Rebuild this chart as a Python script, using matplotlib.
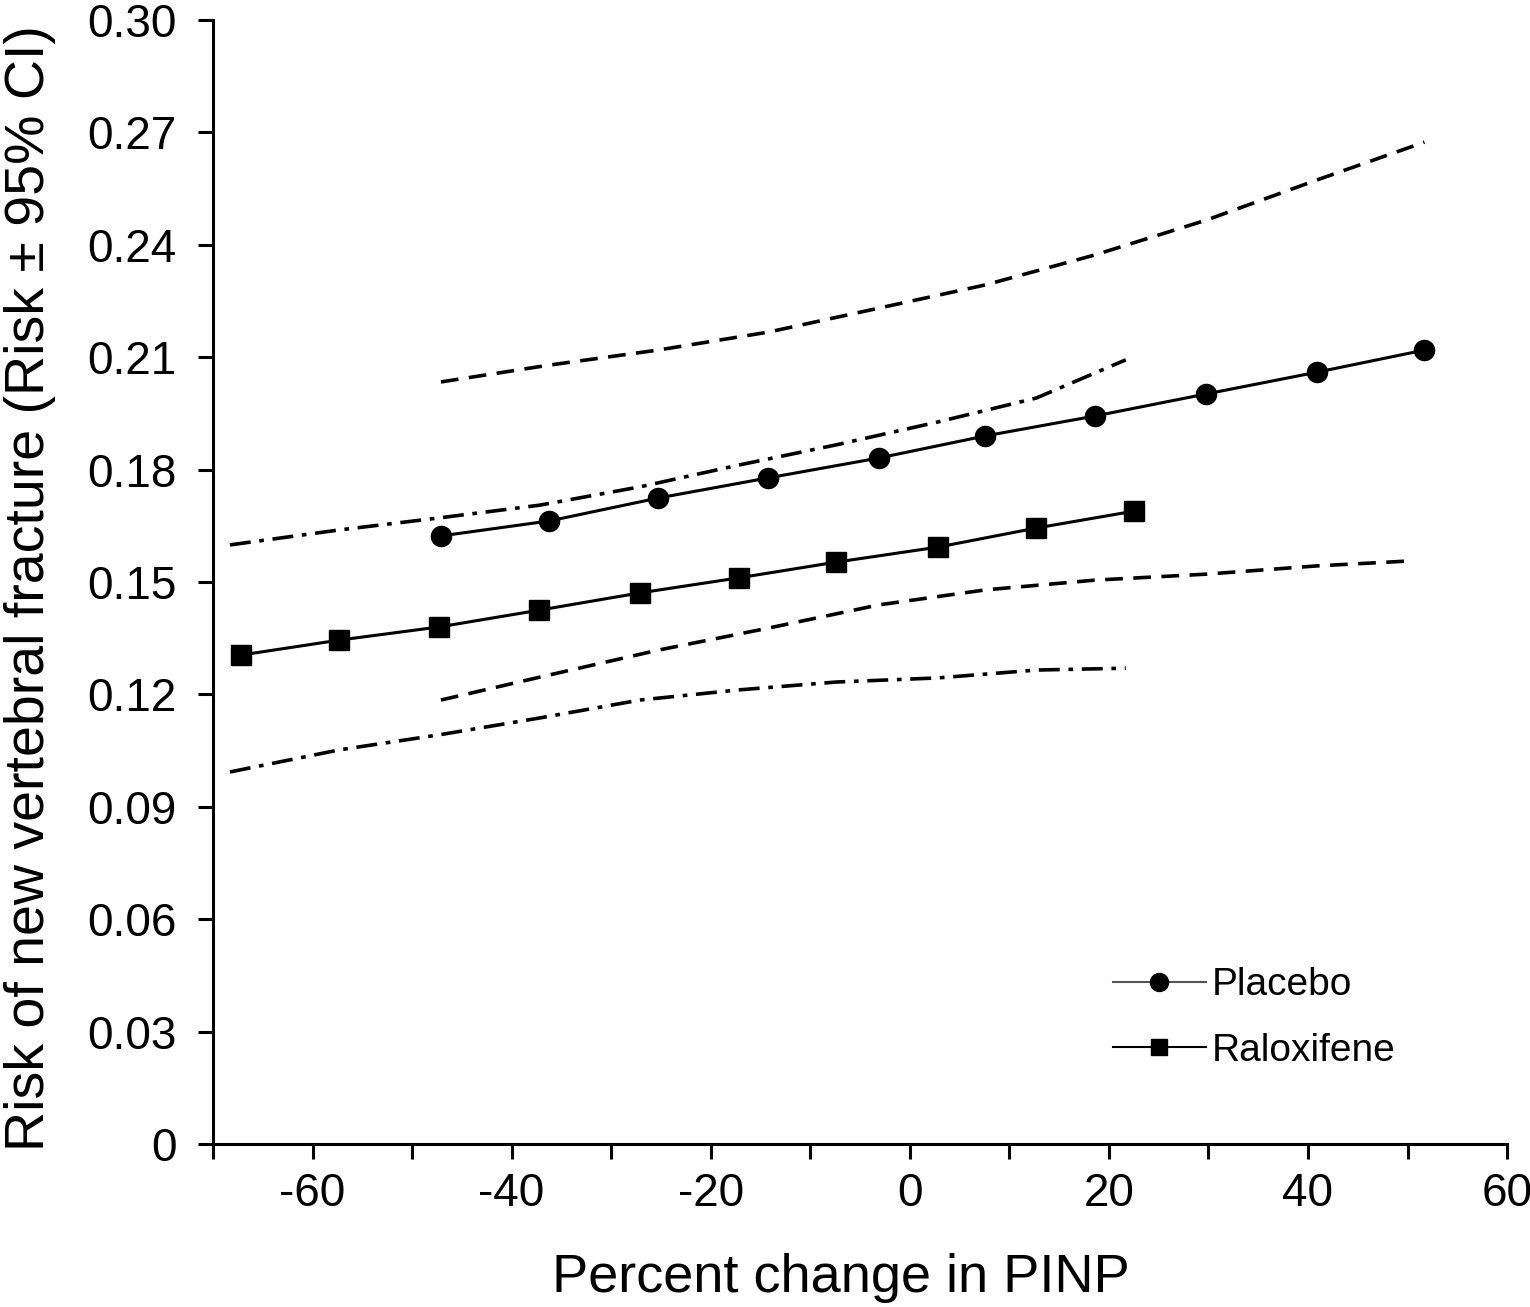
import matplotlib
matplotlib.use("Agg")
import matplotlib.pyplot as plt
from matplotlib.lines import Line2D

plt.rcParams['font.family'] = ['Liberation Sans', 'DejaVu Sans']

# Placebo
plc_x = [-47.1, -36.2, -25.3, -14.2, -3.1, 7.6, 18.6, 29.8, 40.9, 51.7]
plc_y = [0.1623, 0.1663, 0.1724, 0.1778, 0.1831, 0.1890, 0.1943, 0.2002, 0.2060, 0.2119]
plc_up = [0.2034, 0.2079, 0.2119, 0.2167, 0.2231, 0.2293, 0.2373, 0.2466, 0.2573, 0.2674]
plc_lo_x = [-47.1, -36.2, -25.3, -14.2, -3.1, 7.6, 18.6, 29.8, 40.9, 50.1]
plc_lo = [0.1185, 0.1252, 0.1318, 0.1377, 0.1439, 0.1479, 0.1505, 0.1521, 0.1543, 0.1556]

# Raloxifene
ral_x = [-67.2, -57.3, -47.3, -37.2, -27.1, -17.2, -7.4, 2.8, 12.7, 22.5]
ral_y = [0.1305, 0.1345, 0.1380, 0.1425, 0.1471, 0.1511, 0.1553, 0.1593, 0.1644, 0.1689]
ral_ci_x = [-68.3, -57.3, -47.3, -37.2, -27.1, -17.2, -7.4, 2.8, 12.7, 21.7]
ral_up = [0.1599, 0.1639, 0.1671, 0.1705, 0.1754, 0.1812, 0.1866, 0.1927, 0.1991, 0.2093]
ral_lo = [0.0993, 0.1052, 0.1092, 0.1137, 0.1185, 0.1212, 0.1233, 0.1244, 0.1265, 0.1270]

x_ticks = list(range(-70, 61, 10))
x_labels = ['' if t % 20 else str(t) for t in x_ticks]
y_ticks = [0, 0.03, 0.06, 0.09, 0.12, 0.15, 0.18, 0.21, 0.24, 0.27, 0.30]
y_labels = ['0', '0.03', '0.06', '0.09', '0.12', '0.15', '0.18', '0.21', '0.24', '0.27', '0.30']

fig = plt.figure(figsize=(15.3, 13.07), dpi=100)
ax = fig.add_axes([0.1392, 0.1247, 0.8458, 0.86])

lw = 2.2
ci_lw = 2.6
ax.plot(plc_x, plc_up, color='black', lw=ci_lw, dashes=(4.9, 2.9))
ax.plot(plc_lo_x, plc_lo, color='black', lw=ci_lw, dashes=(4.9, 2.9))
ax.plot(ral_ci_x, ral_up, color='black', lw=ci_lw, dashes=(5.8, 2.4, 1.3, 2.4))
ax.plot(ral_ci_x, ral_lo, color='black', lw=ci_lw, dashes=(5.8, 2.4, 1.3, 2.4))
ax.plot(plc_x, plc_y, color='black', lw=lw, marker='o', markersize=14.5)
ax.plot(ral_x, ral_y, color='black', lw=lw, marker='s', markersize=14)

ax.set_xlim(-70, 60)
ax.set_ylim(0, 0.30)
ax.set_xticks(x_ticks)
ax.set_xticklabels(x_labels)
ax.set_yticks(y_ticks)
ax.set_yticklabels(y_labels)

for s in ['top', 'right']:
    ax.spines[s].set_visible(False)
for s in ['left', 'bottom']:
    ax.spines[s].set_linewidth(2.2)
ax.tick_params(axis='both', direction='out', length=11, width=2.2, labelsize=33)
ax.tick_params(axis='y', pad=15)
ax.tick_params(axis='x', pad=9)

ax.set_xlabel('Percent change in PINP', fontsize=39)
ax.xaxis.set_label_coords(0.4853, -0.097)
ax.set_ylabel('Risk of new vertebral fracture (Risk \u00b1 95% CI)', fontsize=40)
ax.yaxis.set_label_coords(-0.121, 0.495)

handles = [Line2D([], [], color='#555555', lw=1.5, marker='o', markersize=13, markerfacecolor='black', markeredgecolor='black'),
           Line2D([], [], color='black', lw=1.5, marker='s', markersize=12)]
ax.legend(handles, ['Placebo', 'Raloxifene'], loc='lower right', bbox_to_anchor=(0.941, 0.036),
          frameon=False, fontsize=28, handlelength=2.4, labelspacing=0.75, handletextpad=0.15)

fig.savefig('out.png', dpi=100)
